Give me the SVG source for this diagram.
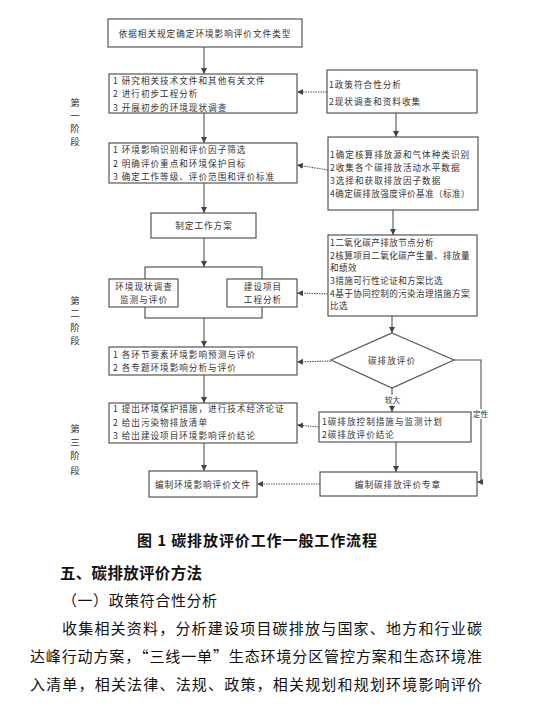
<svg xmlns="http://www.w3.org/2000/svg" width="548" height="713" viewBox="0 0 548 713">
<defs>
<marker id="ah" viewBox="0 0 8 8" refX="8" refY="4" markerWidth="6" markerHeight="6" markerUnits="userSpaceOnUse" orient="auto">
<path d="M0,0 L8,4 L0,8 Z" fill="#444"/>
</marker>
</defs>
<style>
.box{fill:#fff;stroke:#555;stroke-width:1.2}
.t{font-family:"Noto Sans CJK SC","Liberation Sans",sans-serif;font-size:8.6px;fill:#333;letter-spacing:1px}
.n{letter-spacing:0.4px}
.c{text-anchor:middle}
.st{font-family:"Noto Sans CJK SC","Liberation Sans",sans-serif;font-size:9.5px;fill:#333;text-anchor:middle}
.ln{fill:none;stroke:#555;stroke-width:1.1}
.dl{fill:none;stroke:#555;stroke-width:1.1;stroke-dasharray:1.5 1}
.lbl{font-family:"Noto Sans CJK SC","Liberation Sans",sans-serif;font-size:7.5px;fill:#333;text-anchor:middle}
.cap{font-family:"Noto Sans CJK SC","Liberation Serif",sans-serif;fill:#111}
</style>
<rect width="548" height="713" fill="#fff"/>

<g id="connectors">
<line class="ln" x1="204" y1="47" x2="204" y2="74" marker-end="url(#ah)"/>
<line class="ln" x1="204" y1="113" x2="204" y2="143" marker-end="url(#ah)"/>
<line class="ln" x1="204" y1="183" x2="204" y2="213" marker-end="url(#ah)"/>
<line class="ln" x1="204" y1="238" x2="204" y2="267" marker-end="url(#ah)"/>
<line class="ln" x1="204" y1="318" x2="204" y2="347" marker-end="url(#ah)"/>
<line class="ln" x1="204" y1="375" x2="204" y2="403" marker-end="url(#ah)"/>
<line class="ln" x1="204" y1="443" x2="204" y2="471" marker-end="url(#ah)"/>
<line class="ln" x1="396" y1="113" x2="396" y2="137" marker-end="url(#ah)"/>
<line class="ln" x1="393" y1="210" x2="393" y2="235" marker-end="url(#ah)"/>
<line class="ln" x1="392" y1="316" x2="392" y2="333" marker-end="url(#ah)"/>
<line class="ln" x1="392" y1="388" x2="392" y2="412" marker-end="url(#ah)"/>
<line class="ln" x1="396" y1="442" x2="396" y2="472" marker-end="url(#ah)"/>
<polyline class="ln" points="454,360 481,360 481,482 477,482" marker-end="url(#ah)"/>
<line class="dl" x1="327" y1="92" x2="297" y2="92" marker-end="url(#ah)"/>
<line class="dl" x1="328" y1="170" x2="297" y2="165" marker-end="url(#ah)"/>
<line class="dl" x1="328" y1="294" x2="297" y2="293" marker-end="url(#ah)"/>
<line class="dl" x1="331" y1="361" x2="297" y2="362" marker-end="url(#ah)"/>
<line class="dl" x1="319" y1="427" x2="297" y2="425" marker-end="url(#ah)"/>
<line class="dl" x1="320" y1="484" x2="257" y2="484" marker-end="url(#ah)"/>
</g>

<g id="n-top">
<rect class="box" x="108" y="19" width="194" height="28"/>
<text class="t c" x="205" y="36.5">依据相关规定确定环境影响评价文件类型</text>
</g>

<g id="n-s1a">
<rect class="box" x="109" y="74" width="188" height="39"/>
<text class="t" x="113" y="84">1 研究相关技术文件和其他有关文件</text>
<text class="t" x="113" y="97">2 进行初步工程分析</text>
<text class="t" x="113" y="110.5">3 开展初步的环境现状调查</text>
</g>

<g id="n-r1">
<rect class="box" x="327" y="70" width="150" height="43"/>
<text class="t" x="329" y="88">1政策符合性分析</text>
<text class="t" x="329" y="105">2现状调查和资料收集</text>
</g>

<g id="n-s1b">
<rect class="box" x="109" y="143" width="188" height="40"/>
<text class="t" x="113" y="153">1 环境影响识别和评价因子筛选</text>
<text class="t" x="113" y="166.5">2 明确评价重点和环境保护目标</text>
<text class="t" x="113" y="180">3 确定工作等级、评价范围和评价标准</text>
</g>

<g id="n-r2">
<rect class="box" x="328" y="137" width="150" height="73"/>
<text class="t" x="330" y="158">1确定核算排放源和气体种类识别</text>
<text class="t" x="330" y="170.5">2收集各个碳排放活动水平数据</text>
<text class="t" x="330" y="183.5">3选择和获取排放因子数据</text>
<text class="t n" x="330" y="196.5">4确定碳排放强度评价基准（标准）</text>
</g>

<g id="n-plan">
<rect class="box" x="151" y="213" width="105" height="25"/>
<text class="t c" x="204" y="229">制定工作方案</text>
</g>

<g id="n-group">
<rect class="box" x="145" y="267" width="117" height="51"/>
</g>

<g id="n-env">
<rect class="box" x="109" y="279" width="69" height="28"/>
<text class="t c" x="144" y="290">环境现状调查</text>
<text class="t c" x="144" y="302.5">监测与评价</text>
</g>

<g id="n-proj">
<rect class="box" x="227" y="279" width="70" height="28"/>
<text class="t c" x="263" y="290">建设项目</text>
<text class="t c" x="263" y="303">工程分析</text>
</g>

<g id="n-r3">
<rect class="box" x="328" y="235" width="149" height="81"/>
<text class="t n" x="330" y="246">1二氧化碳产排放节点分析</text>
<text class="t n" x="330" y="258.5">2核算项目二氧化碳产生量、排放量</text>
<text class="t n" x="330" y="271">和绩效</text>
<text class="t n" x="330" y="283.5">3措施可行性论证和方案比选</text>
<text class="t n" x="330" y="296.5">4基于协同控制的污染治理措施方案</text>
<text class="t n" x="330" y="309">比选</text>
</g>

<g id="n-s2">
<rect class="box" x="109" y="347" width="188" height="28"/>
<text class="t" x="113" y="357.5">1 各环节要素环境影响预测与评价</text>
<text class="t" x="113" y="371">2 各专题环境影响分析与评价</text>
</g>

<g id="n-diamond">
<polygon class="box" points="392,333 454,360 392,388 331,360"/>
<text class="t c" x="392" y="363.5">碳排放评价</text>
</g>

<g id="n-labels">
<rect x="384" y="395" width="17" height="10" fill="#fff"/>
<text class="lbl" x="392.5" y="403">较大</text>
<rect x="472" y="409" width="17" height="10" fill="#fff"/>
<text class="lbl" x="480.5" y="417">定性</text>
</g>

<g id="n-s3">
<rect class="box" x="109" y="403" width="188" height="40"/>
<text class="t" x="113" y="411.5">1 提出环境保护措施，进行技术经济论证</text>
<text class="t" x="113" y="425.5">2 给出污染物排放清单</text>
<text class="t" x="113" y="439">3 给出建设项目环境影响评价结论</text>
</g>

<g id="n-r4">
<rect class="box" x="319" y="412" width="152" height="30"/>
<text class="t" x="322" y="425">1碳排放控制措施与监测计划</text>
<text class="t" x="322" y="438">2碳排放评价结论</text>
</g>

<g id="n-doc">
<rect class="box" x="149" y="471" width="108" height="26"/>
<text class="t c" x="203" y="487.5">编制环境影响评价文件</text>
</g>

<g id="n-chapter">
<rect class="box" x="320" y="472" width="157" height="24"/>
<text class="t c" x="398" y="487.5">编制碳排放评价专章</text>
</g>

<g id="stages">
<text class="st" x="75" y="106">第</text>
<text class="st" x="75" y="119">一</text>
<text class="st" x="75" y="132">阶</text>
<text class="st" x="75" y="145">段</text>
<text class="st" x="75" y="304">第</text>
<text class="st" x="75" y="317">二</text>
<text class="st" x="75" y="331">阶</text>
<text class="st" x="75" y="344">段</text>
<text class="st" x="75" y="432">第</text>
<text class="st" x="75" y="446">三</text>
<text class="st" x="75" y="459">阶</text>
<text class="st" x="75" y="474">段</text>
</g>

<g id="body">
<text class="cap" x="137" y="546" font-size="15" font-weight="bold" textLength="240" lengthAdjust="spacing">图 1  碳排放评价工作一般工作流程</text>
<text class="cap" x="60" y="579" font-size="15.5" font-weight="bold" textLength="142" lengthAdjust="spacing">五、碳排放评价方法</text>
<text class="cap" x="62" y="606" font-size="15" textLength="155" lengthAdjust="spacing">（一）政策符合性分析</text>
<text class="cap" x="62" y="634" font-size="15" textLength="420" lengthAdjust="spacing">收集相关资料，分析建设项目碳排放与国家、地方和行业碳</text>
<text class="cap" x="30" y="662" font-size="15" textLength="452" lengthAdjust="spacing">达峰行动方案，“三线一单”生态环境分区管控方案和生态环境准</text>
<text class="cap" x="30" y="690" font-size="15" textLength="452" lengthAdjust="spacing">入清单，相关法律、法规、政策，相关规划和规划环境影响评价</text>
</g>
</svg>
